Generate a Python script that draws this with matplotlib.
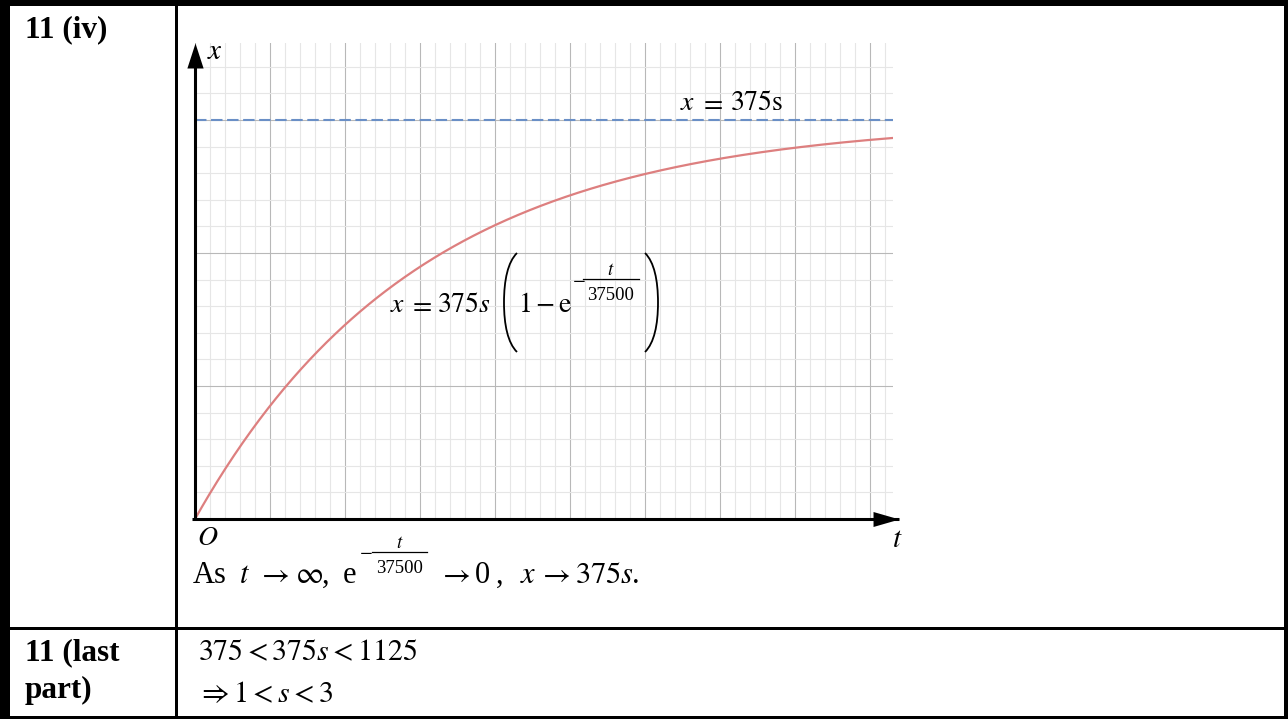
import numpy as np
import matplotlib.pyplot as plt
from matplotlib.path import Path
from matplotlib.patches import PathPatch, Rectangle

plt.rcParams['mathtext.fontset'] = 'stix'
plt.rcParams['font.family'] = 'Liberation Serif'

# x = 375 s (1 - e^(-t/37500)), drawn for s = 1
s_val = 1.0
x_coef = 375
t_const = 37500

# plotting window and grid spacing
t_max = 116333
x_top = 447.4
t_major, t_minor = 12500, 2500
x_major, x_minor = 125, 25

W, H = 1288, 719
fig = plt.figure(figsize=(W / 100, H / 100), dpi=100)

# page layer in pixel units (table rules and all the typeset text)
bg = fig.add_axes([0, 0, 1, 1])
bg.set_xlim(0, W)
bg.set_ylim(H, 0)
bg.axis('off')
bg.set_zorder(2)
bg.patch.set_visible(False)

# graph
ax = fig.add_axes([195 / W, (H - 519) / H, (893 - 195) / W, (519 - 43) / H])
ax.set_zorder(1)
ax.set_xlim(0, t_max)
ax.set_ylim(0, x_top)
ax.set_xticks(np.arange(0, t_max, t_major))
ax.set_xticks(np.arange(0, t_max, t_minor), minor=True)
ax.set_yticks(np.arange(0, x_top, x_major))
ax.set_yticks(np.arange(0, x_top, x_minor), minor=True)
ax.grid(which='major', color='#b8b8b8', lw=0.8)
ax.grid(which='minor', color='#e6e6e6', lw=0.8)
ax.set_axisbelow(True)
ax.tick_params(which='both', length=0, labelbottom=False, labelleft=False)
for sp in ax.spines.values():
    sp.set_visible(False)

t = np.linspace(0, t_max, 500)
x = x_coef * s_val * (1 - np.exp(-t / t_const))
ax.plot(t, x, color='#dd7f7f', lw=1.6, zorder=3)
ax.axhline(x_coef * s_val, color='#6a8fc6', lw=1.5, dashes=(5.5, 2.2), zorder=3)

# axes with arrow heads
t_tip = t_max * 1.0086
ax.plot([-t_max * 0.004, t_tip], [0, 0], color='k', lw=2.2, clip_on=False,
        solid_capstyle='butt', zorder=4)
ax.plot([0, 0], [-x_top * 0.003, x_top * 0.97], color='k', lw=2.2,
        clip_on=False, solid_capstyle='butt', zorder=4)
head_x = [(-2, -0.577), (0, 0), (-2, 0.577), (-2, -0.577)]
head_y = [(-0.65, -2), (0, 0), (0.65, -2), (-0.65, -2)]
ax.plot(t_tip, 0, marker=head_x, ms=37.4, color='k', mew=0, clip_on=False, zorder=5)
ax.plot(0, x_top, marker=head_y, ms=36, color='k', mew=0, clip_on=False, zorder=5)

# table rules
for x0, y0, w, h in [(0, 0, W, 6), (0, 0, 10, H), (W - 3.5, 0, 3.5, H),
                     (0, H - 3, W, 3), (175.5, 0, 2.5, H), (0, 627, W, 3)]:
    bg.add_patch(Rectangle((x0, y0), w, h, color='k', lw=0))


def put(x, y, s, size, **kw):
    kw.setdefault('ha', 'left')
    kw.setdefault('va', 'baseline')
    bg.text(x, y, s, fontsize=size, color='k', **kw)


def exp_frac(xm, xb0, xb1, yb, size):
    # superscript  -t/37500  with a rule between numerator and denominator
    put(xm, yb + 4.5, r'$-$', size)
    bg.plot([xb0, xb1], [yb, yb], color='k', lw=0.9)
    xc = (xb0 + xb1) / 2
    put(xc, yb - 4, r'$t$', size, ha='center')
    put(xc, yb + 21, '37500', size, ha='center')


def paren(x_out, x_in, y0, y1, lw=1.3):
    ym = (y0 + y1) / 2
    verts = [(x_out, y0), (x_in + (x_out - x_in) * 0.3, y0 + 9), (x_in, y0 + 27), (x_in, ym),
             (x_in, y1 - 27), (x_in + (x_out - x_in) * 0.3, y1 - 9), (x_out, y1)]
    codes = [Path.MOVETO] + [Path.CURVE4] * 6
    bg.add_patch(PathPatch(Path(verts, codes), fill=False, lw=lw, color='k'))


# left column
put(25, 37, '11 (iv)', 22.5, fontweight='bold')
put(25, 660, '11 (last', 22.5, fontweight='bold')
put(25, 698, 'part)', 22.5, fontweight='bold')

# axis names
put(207, 59, r'$x$', 21)
put(197, 545, r'$O$', 20)
put(892, 547, r'$t$', 21)

# asymptote label
put(680, 110, r'$x$', 20)
put(699, 110, r'$=$', 20)
put(730, 110, r'$375\mathrm{s}$', 20)

# curve label
put(390, 312, r'$x$', 20)
put(408, 312, r'$=$', 20)
put(437, 312, r'$375s$', 20)
paren(517, 504, 253, 352)
put(518, 312, r'$1 - \mathrm{e}$', 20)
exp_frac(572, 583, 639, 279, 13.5)
paren(645, 658, 253, 352)

# limit statement
put(193, 583, 'As', 22)
put(239, 583, r'$t$', 22)
put(257, 583, r'$\rightarrow$', 22)
put(295, 583, r'$\infty$', 22)
put(322, 583, ',', 22)
put(343, 583, 'e', 22)
exp_frac(359, 372, 427, 552, 13.5)
put(438, 583, r'$\rightarrow$', 22)
put(475, 583, '0', 22)
put(496, 583, ',', 22)
put(520, 583, r'$x$', 22)
put(538, 583, r'$\rightarrow$', 22)
put(575, 583, r'$375s$', 22)
put(632, 583, '.', 22)

# last part
put(198, 660, r'$375 < 375s < 1125$', 21.5)
put(197, 702, r'$\Rightarrow 1 < s < 3$', 21.5)

fig.savefig('out.png', dpi=100)
